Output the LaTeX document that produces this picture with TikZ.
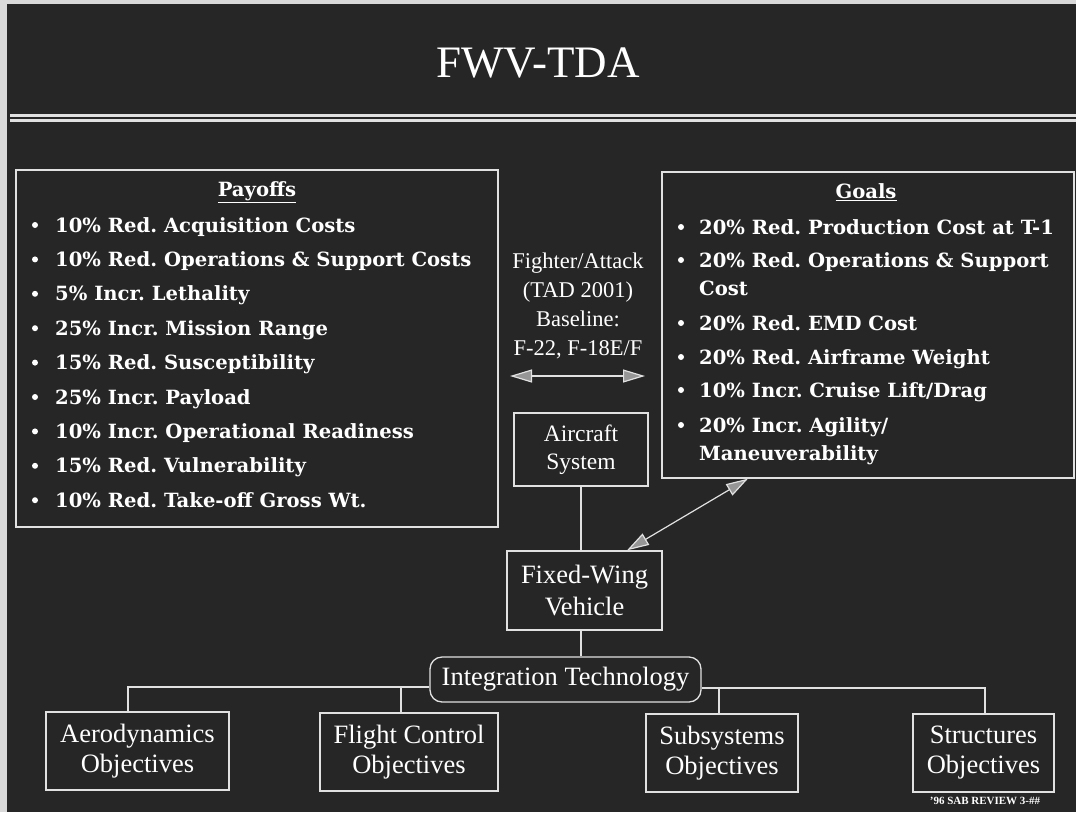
\documentclass[tikz,border=0pt]{standalone}
\usepackage{fontspec}
\setmainfont{Liberation Serif}
\newfontfamily\listfamily{DejaVu Serif}
\usetikzlibrary{arrows.meta}
\frenchspacing

% wide bold serif for the bullet lists
\newcommand\palb{\listfamily\bfseries\fontsize{19.6}{23}\selectfont}

\definecolor{slatebg}{RGB}{38,38,38}
\definecolor{inkline}{RGB}{225,225,225}
\definecolor{tipfill}{RGB}{150,150,150}

\tikzset{
  boxed/.style={draw=inkline, line width=1.3pt, inner sep=0pt},
  plain/.style={text=white, inner sep=0pt},
  listtext/.style={plain, anchor=base west, font=\palb},
  dot/.style={circle, fill=white, inner sep=0pt, minimum size=6pt},
  conn/.style={draw=inkline, line width=1.2pt},
  dblarrow/.style={conn, {Triangle[length=22pt,width=13pt,fill=tipfill]}-{Triangle[length=22pt,width=13pt,fill=tipfill]}},
}

\begin{document}
\begin{tikzpicture}[x=1pt,y=-1pt]
\useasboundingbox (0,0) rectangle (1076,812);
% slide background and scanner edges
\fill[slatebg] (0,0) rectangle (1076,812);
\fill[white!85!black] (0,0) rectangle (7,812);
\fill[white!85!black] (0,0) rectangle (1076,4);
% title rule
\draw[inkline, line width=2.6pt] (10,115.5) -- (1076,115.5);
\draw[inkline, line width=2.6pt] (10,120.5) -- (1076,120.5);

\node[plain, font=\fontsize{45}{50}\selectfont] (title) at (538,63) {FWV-TDA};

% Payoffs list
\node[boxed, minimum width=482pt, minimum height=357pt] (pay) at (257,348.5) {};
\node[plain, font=\palb] (payh) at (257,192) {\underline{Payoffs}};
\foreach \t [count=\i] in {
  10\% Red. Acquisition Costs,
  10\% Red. Operations \& Support Costs,
  5\% Incr. Lethality,
  25\% Incr. Mission Range,
  15\% Red. Susceptibility,
  25\% Incr. Payload,
  10\% Incr. Operational Readiness,
  15\% Red. Vulnerability,
  10\% Red. Take-off Gross Wt.}{
  \pgfmathsetmacro\rowy{225+34.4*(\i-1)}
  \node[dot] (pd\i) at (35,\rowy) {};
  \node[listtext] (pt\i) at (55,\rowy+7) {\t};
}

% Goals list
\node[boxed, minimum width=412pt, minimum height=306pt] (goals) at (868,325) {};
\node[plain, font=\palb] (goalh) at (866,192) {\underline{Goals}};
\node[dot] (gd1) at (681,227) {};
\node[listtext] (gt1) at (699,234) {20\% Red. Production Cost at T-1};
\node[dot] (gd2) at (681,260) {};
\node[listtext] (gt2) at (699,267) {20\% Red. Operations \& Support};
\node[listtext] (gt2b) at (699,295) {Cost};
\node[dot] (gd3) at (681,323) {};
\node[listtext] (gt3) at (699,330) {20\% Red. EMD Cost};
\node[dot] (gd4) at (681,357) {};
\node[listtext] (gt4) at (699,364) {20\% Red. Airframe Weight};
\node[dot] (gd5) at (681,390) {};
\node[listtext] (gt5) at (699,397) {10\% Incr. Cruise Lift/Drag};
\node[dot] (gd6) at (681,425) {};
\node[listtext] (gt6) at (699,432) {20\% Incr. Agility/};
\node[listtext] (gt6b) at (699,460) {Maneuverability};

% baseline note between the lists
\node[plain, align=center, font=\fontsize{22.5}{29}\selectfont] (base) at (578,306)
  {Fighter/Attack\\(TAD 2001)\\Baseline:\\F-22, F-18E/F};
\coordinate (la) at (510,376);
\coordinate (ra) at (645,376);
\draw[dblarrow] (la) -- (ra);

% hierarchy
\node[boxed, plain, minimum width=134pt, minimum height=73pt, align=center,
      font=\fontsize{23.5}{28}\selectfont] (air) at (581,449.5) {Aircraft\\System};
\node[boxed, plain, minimum width=155pt, minimum height=79pt, align=center,
      font=\fontsize{26.5}{32}\selectfont] (fwv) at (584.5,590.5) {Fixed-Wing\\Vehicle};
\node[boxed, plain, minimum width=271pt, minimum height=45pt, rounded corners=12pt,
      font=\fontsize{26.5}{28}\selectfont] (integ) at (565.5,679.5) {Integration Technology};

\tikzset{objbox/.style={boxed, plain, minimum height=78pt, align=center,
      font=\fontsize{26.5}{30}\selectfont}}
\node[objbox, minimum width=183pt] (aero) at (137.5,751) {Aerodynamics\\Objectives};
\node[objbox, minimum width=178pt] (flight) at (409,752) {Flight Control\\Objectives};
\node[objbox, minimum width=152pt] (subs) at (722,753) {Subsystems\\Objectives};
\node[objbox, minimum width=141pt] (struct) at (983.5,753) {Structures\\Objectives};

\node[plain, font=\bfseries\fontsize{11}{12}\selectfont] (foot) at (985,801) {'96 SAB REVIEW 3-\#\#};

% connectors
\draw[conn] (air.south) -- (air.south |- fwv.north);
\draw[conn] (air.south |- fwv.south) -- (air.south |- integ.north);
\coordinate (jl) at ([yshift=-7.5pt]integ.west);
\coordinate (jr) at ([yshift=-8.5pt]integ.east);
\draw[conn] (jl) -| ([xshift=-9.5pt]aero.north);
\draw[conn] ([xshift=-8pt]flight.north) -- ([xshift=-8pt]flight.north |- jl);
\draw[conn] (jr) -| ([xshift=1.5pt]struct.north);
\draw[conn] ([xshift=-3pt]subs.north) -- ([xshift=-3pt]subs.north |- jr);
\draw[dblarrow] ([xshift=42.5pt]fwv.north) -- ([xshift=-120pt]goals.south);
\end{tikzpicture}
\end{document}
